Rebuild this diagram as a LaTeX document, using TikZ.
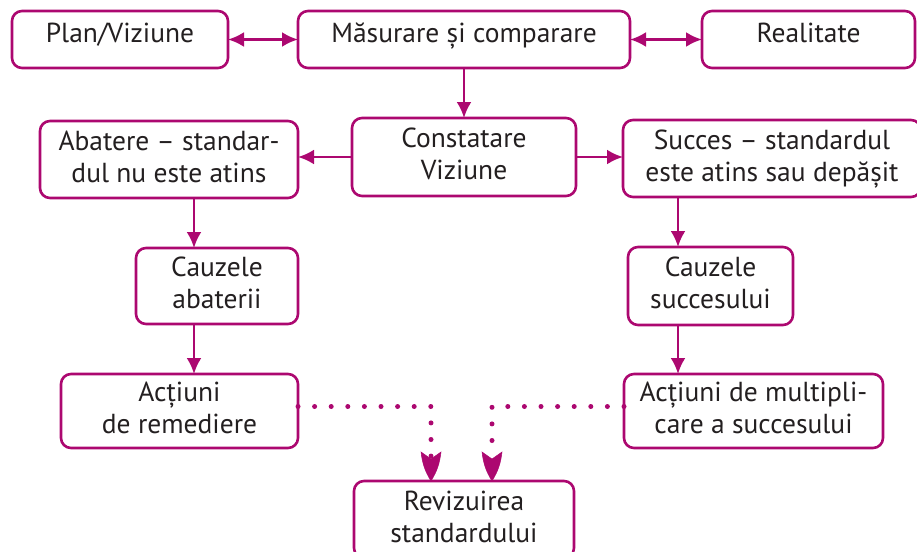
\documentclass[tikz,border=0pt]{standalone}
\usepackage{fontspec}
\setmainfont{PT Sans}
\usetikzlibrary{arrows.meta,calc}
\definecolor{mag}{RGB}{172,8,112}
\definecolor{txt}{RGB}{35,31,32}
\newcommand{\tp}{\rule{0pt}{20pt}}
\newcommand{\bsa}{\rule[-15pt]{0pt}{15pt}}
\newcommand{\bsb}{\rule[-7pt]{0pt}{7pt}}
\tikzset{
  box/.style={draw=mag, line width=2.6pt, rounded corners=10pt, inner sep=0pt, outer sep=0pt,
    align=center, text=txt, font=\fontsize{27.5}{32}\selectfont},
  arr/.style={draw=mag, line width=2.6pt, -{Latex[length=16pt,width=15pt]}},
  darr/.style={draw=mag, line width=2.6pt, {Latex[length=16pt,width=15pt]}-{Latex[length=16pt,width=15pt]}},
  dotline/.style={draw=mag, line width=5pt, line cap=round, dash pattern=on 0pt off 16.6pt},
  dothead/.style={draw=mag, fill=mag, line width=0.5pt}
}
\begin{document}
\begin{tikzpicture}[x=1pt,y=-1pt]
\useasboundingbox (0,0) rectangle (917,551);
\clip (0,0) rectangle (917,551);
\node[box, minimum width=216pt, minimum height=57pt] (plan) at (120,39.5) {\tp Plan/Viziune\bsa};
\node[box, minimum width=332pt, minimum height=57pt] (meas) at (464,39.5) {\tp Măsurare și comparare\bsa};
\node[box, minimum width=213pt, minimum height=57pt] (real) at (808.5,39.5) {\tp Realitate\bsa};
\node[box, minimum width=224pt, minimum height=78pt] (const) at (464,157) {\tp Constatare\\Viziune\bsb};
\node[box, minimum width=258pt, minimum height=77pt] (abat) at (169,159.5) {\tp Abatere – standar-\\dul nu este atins\bsb};
\node[box, minimum width=298pt, minimum height=77pt] (succ) at (772,158.5) {\tp Succes – standardul\\este atins sau depășit\bsb};
\node[box, minimum width=162pt, minimum height=76pt] (caba) at (217,286) {\tp Cauzele\\abaterii\bsb};
\node[box, minimum width=165pt, minimum height=78pt] (caus) at (710.5,286) {\tp Cauzele\\succesului\bsb};
\node[box, minimum width=237pt, minimum height=74pt] (rem) at (179.5,411) {\tp Acțiuni\\de remediere\bsb};
\node[box, minimum width=259pt, minimum height=74pt] (mult) at (753.5,411) {\tp Acțiuni de multipli-\\care a succesului\bsb};
\node[box, minimum width=220pt, minimum height=77pt] (rev) at (464,519.5) {\tp Revizuirea\\standardului\bsb};
\coordinate (xl) at (194,0);
\coordinate (xr) at (678,0);
\coordinate (dl) at (431,406.5);
\coordinate (dr) at (492,406.5);
\draw[darr] (plan.east) -- (meas.west);
\draw[darr] (meas.east) -- (real.west);
\draw[arr] (meas.south) -- (const.north);
\draw[arr] (const.west) -- (abat.east |- const.west);
\draw[arr] (const.east) -- (succ.west |- const.east);
\draw[arr] (abat.south -| xl) -- (caba.north -| xl);
\draw[arr] (caba.south -| xl) -- (rem.north -| xl);
\draw[arr] (succ.south -| xr) -- (caus.north -| xr);
\draw[arr] (caus.south -| xr) -- (mult.north -| xr);
\draw[dotline] (rem.east |- dl) -- (dl) -- ([yshift=24pt]dl |- rev.north);
\draw[dotline] (mult.west |- dr) -- (dr) -- ([yshift=24pt]dr |- rev.north);
\draw[dothead] ([yshift=22pt]dl |- rev.north) -- ([xshift=10pt,yshift=29pt]dl |- rev.north) to[bend left=12] (dl |- rev.north) to[bend left=12] ([xshift=-10pt,yshift=29pt]dl |- rev.north) -- cycle;
\draw[dothead] ([yshift=22pt]dr |- rev.north) -- ([xshift=10pt,yshift=29pt]dr |- rev.north) to[bend left=12] (dr |- rev.north) to[bend left=12] ([xshift=-10pt,yshift=29pt]dr |- rev.north) -- cycle;
\end{tikzpicture}
\end{document}
